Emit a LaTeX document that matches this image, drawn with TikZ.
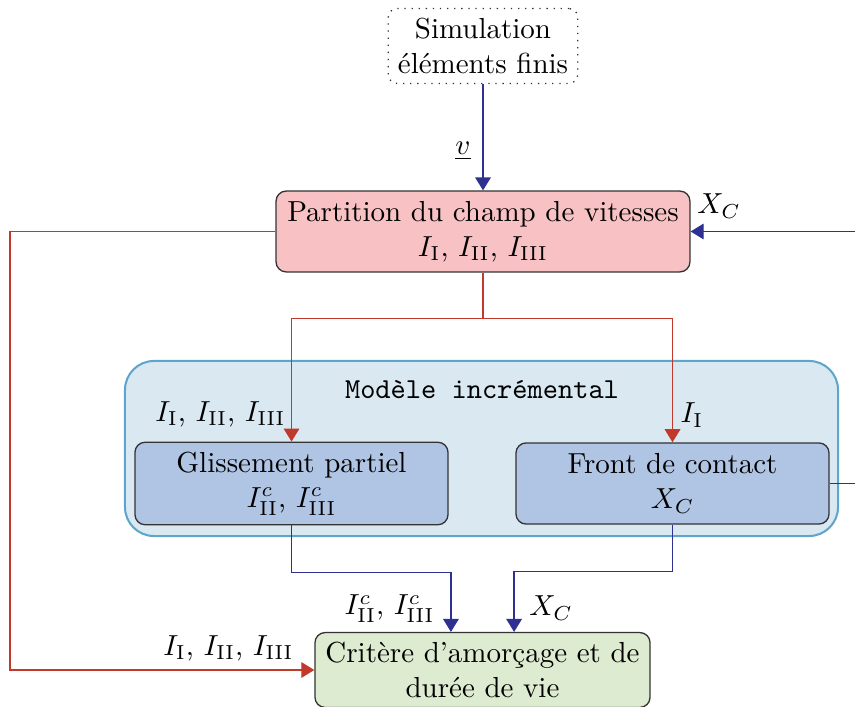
\documentclass[tikz,border=0pt]{standalone}
\usetikzlibrary{arrows.meta}
\definecolor{myred}{RGB}{192,57,43}
\definecolor{myblue}{RGB}{46,49,146}
\definecolor{pinkfill}{RGB}{248,194,196}
\definecolor{contfill}{RGB}{218,232,242}
\definecolor{contdraw}{RGB}{93,165,202}
\definecolor{innerfill}{RGB}{176,196,227}
\definecolor{greenfill}{RGB}{221,235,208}
\tikzset{
  box/.style={draw=black!80, line width=0.45pt, rounded corners=3.5pt, align=center, inner sep=3.33pt},
  inner/.style={box, fill=innerfill, minimum width=108pt, minimum height=28pt},
  redline/.style={draw=myred, line width=0.45pt, -{Triangle[length=4.5pt,width=5.4pt]}},
  blueline/.style={draw=myblue, line width=0.45pt, -{Triangle[length=4.5pt,width=5.4pt]}},
  lbl/.style={inner sep=0pt}
}
\begin{document}
\begin{tikzpicture}[x=0.345pt, y=-0.345pt]
\useasboundingbox (0,0) rectangle (855,707);
\clip (0,0) rectangle (855,707);
% container
\node[draw=contdraw, fill=contfill, line width=0.7pt, rounded corners=10pt,
      minimum width=246pt, minimum height=60.4pt] (cont) at (481.5,448.5) {};
\node[lbl, font=\ttfamily] (title) at (482,390) {Modèle incrémental};
% nodes
\node[box, dotted, draw=black!80, rounded corners=3pt] (sim) at (483,46) {Simulation\\éléments finis};
\node[box, fill=pinkfill, minimum width=142.8pt, minimum height=27.9pt] (part) at (483,231.5)
  {Partition du champ de vitesses\\$I_{\mathrm{I}}$, $I_{\mathrm{II}}$, $I_{\mathrm{III}}$};
\node[inner] (gliss) at (291.5,483.5) {Glissement partiel\\$I^c_{\mathrm{II}}$, $I^c_{\mathrm{III}}$};
\node[inner] (front) at (672.5,483.5) {Front de contact\\$X_C$};
\node[box, fill=greenfill, minimum width=115.6pt, minimum height=25.5pt] (crit) at (482.5,670)
  {Critère d'amorçage et de\\durée de vie};
% connectors
\draw[blueline] (sim) -- (part);
\draw[redline] (part.south) -- ++(0,46) -| (gliss.north);
\draw[redline] (part.south) -- ++(0,46) -| (front.north);
\draw[redline] (part.west) -- ++(-265.5,0) |- (crit.west);
\draw[blueline] (front.east) -- ++(40,0) |- (part.east);
\draw[blueline] (gliss.south) -- ++(0,47) -| ([xshift=-10.9pt]crit.north);
\draw[blueline] (front.south) -- ++(0,47) -| ([xshift=10.9pt]crit.north);
% labels
\node[lbl] (lv) at (463,151) {$\underline{v}$};
\node[lbl] (lxc1) at (719,206) {$X_C$};
\node[lbl, anchor=east] (li1) at (286,414) {$I_{\mathrm{I}}$, $I_{\mathrm{II}}$, $I_{\mathrm{III}}$};
\node[lbl] (li2) at (692,415) {$I_{\mathrm{I}}$};
\node[lbl, anchor=east] (lic) at (435,609) {$I^c_{\mathrm{II}}$, $I^c_{\mathrm{III}}$};
\node[lbl] (lxc2) at (551,608) {$X_C$};
\node[lbl, anchor=east] (li3) at (294,648) {$I_{\mathrm{I}}$, $I_{\mathrm{II}}$, $I_{\mathrm{III}}$};
\end{tikzpicture}
\end{document}
